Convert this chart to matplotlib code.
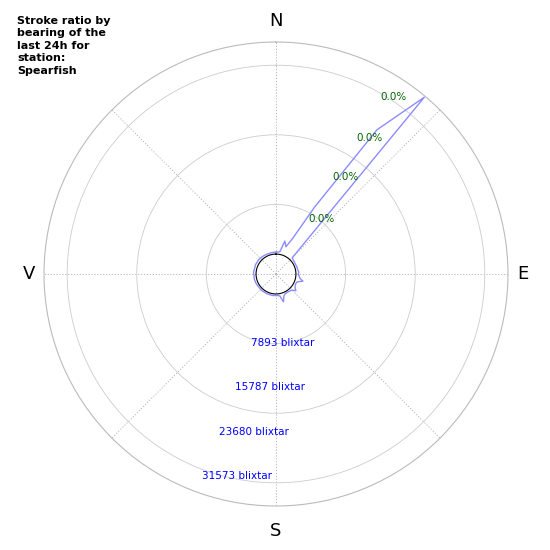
import matplotlib.pyplot as plt
import numpy as np

# stroke ratio per 5 degree bearing bin (radial units, frame = 100)
bearings = np.arange(0, 360, 5)
ratio = [9.4, 9.5, 9.8, 14.7, 12.5, 16.8, 33.4, 75.9, 99.5, 9.9,
         9.6, 9.5, 9.4, 9.4, 9.5, 9.5, 9.6, 9.9, 9.6, 10.0,
         10.5, 12.0, 9.8, 9.5, 9.6, 10.0, 11.2, 9.8, 9.5, 9.3,
         9.3, 9.4, 10.0, 12.4, 9.6, 9.3, 9.3, 9.3, 9.4, 9.3,
         9.3, 9.4, 9.3, 9.3, 9.4, 9.4, 9.3, 9.3, 9.4, 9.5,
         9.5, 9.6, 9.6, 9.5, 9.6, 9.7, 9.6, 9.5, 9.6, 9.7,
         9.6, 9.6, 9.7, 9.6, 9.5, 9.5, 9.4, 9.4, 9.3, 9.4,
         9.4, 9.4]
base_r = 8.6

pct_labels = ['0.0%', '0.0%', '0.0%', '0.0%']
count_labels = [7893, 15787, 23680, 31573]
compass = ['N', 'E', 'S', 'V']
compass_deg = [0, 90, 180, 270]

title = 'Stroke ratio by\nbearing of the\nlast 24h for\nstation:\nSpearfish'

fig = plt.figure(figsize=(5.5, 5.5), dpi=100)
ax = fig.add_axes([0.0800, 0.0800, 0.8436, 0.8436], projection='polar')
ax.set_theta_zero_location('N')
ax.set_theta_direction(-1)
ax.set_ylim(0, 100)

th = np.radians(np.append(bearings, bearings[0]))
rr = np.append(ratio, ratio[0])
ax.plot(th, rr, color='#8c8cff', lw=1.0)

circ = np.linspace(0, 2 * np.pi, 361)
ax.plot(circ, np.full_like(circ, base_r), color='black', lw=0.8)

ax.set_rticks([30, 60, 90])
ax.set_yticklabels([])
ax.set_thetagrids(range(0, 360, 45), labels=[''] * 8)
ax.yaxis.grid(True, color='#cccccc', linestyle='-', lw=0.6)
ax.xaxis.grid(True, color='#b0b0b0', linestyle=(0, (1.5, 2)), lw=0.6)
ax.spines['polar'].set_color('#bbbbbb')
ax.spines['polar'].set_linewidth(0.8)

# compass letters outside the frame
compass_r = {0: 109.0, 90: 106.3, 180: 110.8, 270: 106.6}
for d, lab in zip(compass_deg, compass):
    ax.text(np.radians(d), compass_r[d], lab, fontsize=13, ha='center',
            va='center', clip_on=False)

pct_r = [27.6, 48.3, 68.1, 88.4]
for r, lab in zip(pct_r, pct_labels):
    ax.text(np.radians(30.5), r, lab, color='darkgreen', fontsize=7.5,
            ha='left', va='center')

cnt_r = [31.5, 51.7, 72.4, 92.7]
for r, c in zip(cnt_r, count_labels):
    ax.text(np.radians(200), r, '%d blixtar' % c, color='blue', fontsize=7.5,
            ha='left', va='center')

fig.text(17 / 550, 1 - 16 / 550, title, fontsize=8, fontweight='bold',
         ha='left', va='top', linespacing=1.3)

fig.savefig('out.png', dpi=100)
